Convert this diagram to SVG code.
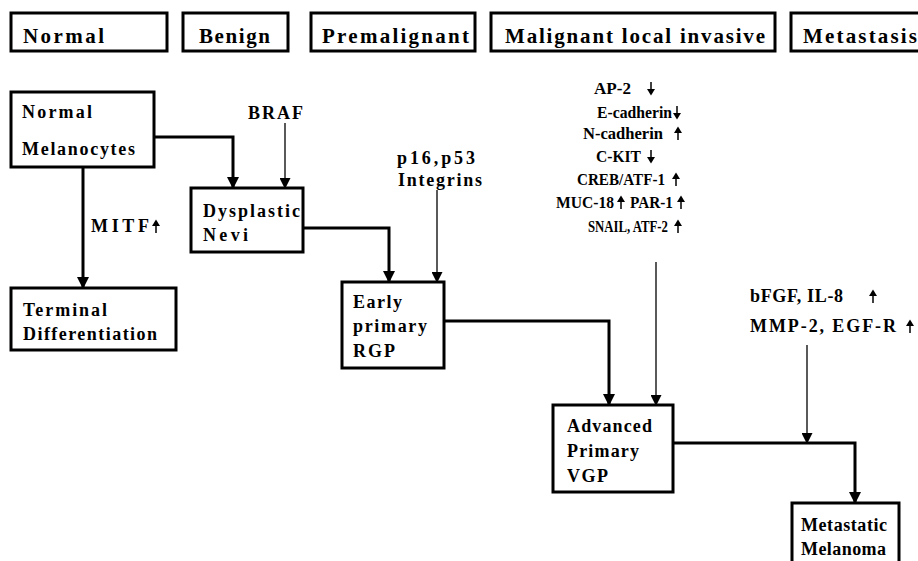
<svg xmlns="http://www.w3.org/2000/svg" xmlns:xlink="http://www.w3.org/1999/xlink" width="918" height="561" viewBox="0 0 918 561">
<style>
  text { font-family: "Liberation Serif", "Times New Roman", serif; font-weight: bold; fill: #000; }
  .hdr { font-size: 21px; }
  .lbl { font-size: 18px; }
  .col { font-size: 17px; }
  .box { fill: #fff; stroke: #000; stroke-width: 3; }
  .thick { fill: none; stroke: #000; stroke-width: 3; }
  .thin { fill: none; stroke: #000; stroke-width: 1.3; }
  .ud { fill: #000; stroke: #000; stroke-width: 1.5; }
</style>
<defs>
  <marker id="ah" markerUnits="userSpaceOnUse" markerWidth="12" markerHeight="12" viewBox="0 0 12 12" refX="11" refY="6" orient="auto">
    <path d="M0,0 L12,6 L0,12 z" fill="#000"/>
  </marker>
  <marker id="ahs" markerUnits="userSpaceOnUse" markerWidth="11" markerHeight="11" viewBox="0 0 11 11" refX="10" refY="5.5" orient="auto">
    <path d="M0,0 L11,5.5 L0,11 z" fill="#000"/>
  </marker>
  <symbol id="up" overflow="visible">
    <path d="M0,6 L0,-3" class="ud"/>
    <path d="M-4,-1 L4,-1 L0,-7.5 z" fill="#000"/>
  </symbol>
  <symbol id="down" overflow="visible">
    <path d="M0,-6 L0,3" class="ud"/>
    <path d="M-4,1 L4,1 L0,7.5 z" fill="#000"/>
  </symbol>
</defs>

<g id="stages">
  <g id="stage-normal"><rect class="box" x="11" y="13" width="156" height="38"/><text class="hdr" x="23" y="43" textLength="81" lengthAdjust="spacing">Normal</text></g>
  <g id="stage-benign"><rect class="box" x="183" y="13" width="105" height="38"/><text class="hdr" x="199" y="43" textLength="71" lengthAdjust="spacing">Benign</text></g>
  <g id="stage-premalignant"><rect class="box" x="311" y="13" width="164" height="38"/><text class="hdr" x="322" y="43" textLength="147" lengthAdjust="spacing">Premalignant</text></g>
  <g id="stage-malignant"><rect class="box" x="491" y="13" width="284" height="38"/><text class="hdr" x="505" y="43" textLength="260" lengthAdjust="spacing">Malignant local invasive</text></g>
  <g id="stage-metastasis"><rect class="box" x="791" y="13" width="140" height="38"/><text class="hdr" x="803" y="43" textLength="114" lengthAdjust="spacing">Metastasis</text></g>
</g>

<g id="connectors">
  <path class="thick" d="M154,137 H233 V188" marker-end="url(#ah)"/>
  <path class="thin" d="M285,123 V188" marker-end="url(#ahs)"/>
  <path class="thick" d="M83,167 V288" marker-end="url(#ah)"/>
  <path class="thick" d="M303,228 H389 V282" marker-end="url(#ah)"/>
  <path class="thin" d="M437,190 V282" marker-end="url(#ahs)"/>
  <path class="thick" d="M444,321 H609 V405" marker-end="url(#ah)"/>
  <path class="thin" d="M656,262 V405" marker-end="url(#ahs)"/>
  <path class="thick" d="M673,443 H855 V503" marker-end="url(#ah)"/>
  <path class="thin" d="M807,345 V443" marker-end="url(#ahs)"/>
</g>

<g id="normal-melanocytes">
  <rect class="box" x="11" y="92" width="143" height="75"/>
  <text class="lbl" x="22" y="118" textLength="70" lengthAdjust="spacing">Normal</text>
  <text class="lbl" x="22" y="155" textLength="113" lengthAdjust="spacing">Melanocytes</text>
</g>

<g id="terminal-differentiation">
  <rect class="box" x="11" y="288" width="165" height="62"/>
  <text class="lbl" x="23" y="316" textLength="84" lengthAdjust="spacing">Terminal</text>
  <text class="lbl" x="23" y="340" textLength="134" lengthAdjust="spacing">Differentiation</text>
</g>

<g id="dysplastic-nevi">
  <rect class="box" x="191" y="188" width="112" height="64"/>
  <text class="lbl" x="203" y="217" textLength="97" lengthAdjust="spacing">Dysplastic</text>
  <text class="lbl" x="203" y="241" textLength="45" lengthAdjust="spacing">Nevi</text>
</g>

<g id="early-primary-rgp">
  <rect class="box" x="342" y="282" width="102" height="86"/>
  <text class="lbl" x="353" y="308" textLength="49" lengthAdjust="spacing">Early</text>
  <text class="lbl" x="353" y="332" textLength="74" lengthAdjust="spacing">primary</text>
  <text class="lbl" x="353" y="357" textLength="42" lengthAdjust="spacing">RGP</text>
</g>

<g id="advanced-primary-vgp">
  <rect class="box" x="553" y="405" width="120" height="87"/>
  <text class="lbl" x="567" y="432" textLength="85" lengthAdjust="spacing">Advanced</text>
  <text class="lbl" x="567" y="457" textLength="72" lengthAdjust="spacing">Primary</text>
  <text class="lbl" x="567" y="482" textLength="41" lengthAdjust="spacing">VGP</text>
</g>

<g id="metastatic-melanoma">
  <rect class="box" x="792" y="503" width="107" height="70"/>
  <text class="lbl" x="801" y="531" textLength="86" lengthAdjust="spacing">Metastatic</text>
  <text class="lbl" x="801" y="555" textLength="85" lengthAdjust="spacing">Melanoma</text>
</g>

<g id="label-braf"><text class="lbl" x="248" y="119" textLength="55" lengthAdjust="spacing">BRAF</text></g>
<g id="label-mitf"><text class="lbl" x="91" y="232" textLength="58" lengthAdjust="spacing">MITF</text><use xlink:href="#up" x="156" y="227"/></g>
<g id="label-p16"><text class="lbl" x="397" y="164" textLength="78" lengthAdjust="spacing">p16,p53</text>
  <text class="lbl" x="398" y="186" textLength="84" lengthAdjust="spacing">Integrins</text></g>

<g id="label-invasive">
  <text class="col" x="594" y="94" textLength="37" lengthAdjust="spacingAndGlyphs">AP-2</text><use xlink:href="#down" x="651" y="88"/>
  <text class="col" x="597" y="118" textLength="75" lengthAdjust="spacingAndGlyphs">E-cadherin</text><use xlink:href="#down" x="677" y="112"/>
  <text class="col" x="583" y="139" textLength="80" lengthAdjust="spacingAndGlyphs">N-cadherin</text><use xlink:href="#up" x="678" y="134"/>
  <text class="col" x="596" y="162" textLength="45" lengthAdjust="spacingAndGlyphs">C-KIT</text><use xlink:href="#down" x="651" y="156"/>
  <text class="col" x="577" y="185" textLength="88" lengthAdjust="spacingAndGlyphs">CREB/ATF-1</text><use xlink:href="#up" x="676" y="180"/>
  <text class="col" x="556" y="208" textLength="58" lengthAdjust="spacingAndGlyphs">MUC-18</text><use xlink:href="#up" x="621" y="203"/>
  <text class="col" x="630" y="208" textLength="43" lengthAdjust="spacingAndGlyphs">PAR-1</text><use xlink:href="#up" x="681" y="203"/>
  <text class="col" x="588" y="232" textLength="80" lengthAdjust="spacingAndGlyphs">SNAIL, ATF-2</text><use xlink:href="#up" x="678" y="227"/>
</g>

<g id="label-metastasis">
  <text class="lbl" x="750" y="302" textLength="93" lengthAdjust="spacing">bFGF, IL-8</text><use xlink:href="#up" x="873" y="297"/>
  <text class="lbl" x="750" y="332" textLength="146" lengthAdjust="spacing">MMP-2, EGF-R</text><use xlink:href="#up" x="910" y="327"/>
</g>
</svg>
